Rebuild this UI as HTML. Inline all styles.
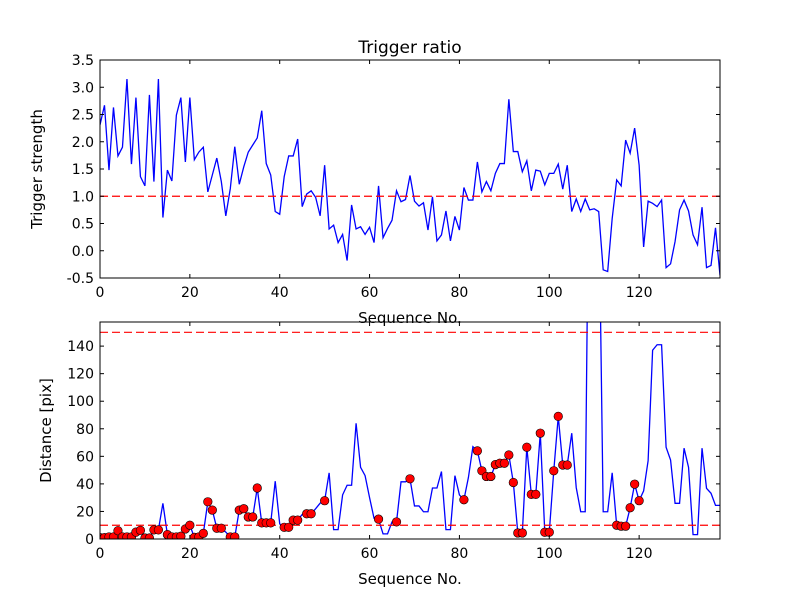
<!DOCTYPE html>
<html><head><meta charset="utf-8"><style>
body{margin:0;background:#fff;}
svg text{font-family:"DejaVu Sans","Liberation Sans",sans-serif;fill:#000;}
</style></head><body>
<svg id="chart" width="800" height="600" viewBox="0 0 800 600" xmlns="http://www.w3.org/2000/svg">
<rect width="800" height="600" fill="#fff"/>
<defs>
<clipPath id="clipTop"><rect x="100" y="60" width="620" height="218"/></clipPath>
<clipPath id="clipBot"><rect x="100" y="322" width="620" height="217"/></clipPath>
</defs>
<g id="top"></g>
<g id="bot"></g>
</svg>
<script>
const ratio = [2.31,2.67,1.48,2.63,1.74,1.9,3.15,1.59,2.81,1.36,1.19,2.86,1.27,3.15,0.61,1.48,1.28,2.49,2.81,1.63,
2.81,1.67,1.81,1.9,1.08,1.39,1.7,1.27,0.64,1.14,1.91,1.22,1.54,1.81,1.94,2.07,2.57,1.6,1.39,0.72,
0.67,1.36,1.74,1.74,2.05,0.81,1.04,1.1,0.98,0.64,1.57,0.4,0.47,0.15,0.3,-0.18,0.84,0.4,0.44,0.3,
0.43,0.15,1.19,0.24,0.41,0.56,1.1,0.9,0.94,1.38,0.91,0.82,0.88,0.38,0.99,0.18,0.29,0.73,0.18,0.63,
0.38,1.16,0.93,0.93,1.63,1.08,1.27,1.1,1.42,1.6,1.6,2.78,1.82,1.82,1.45,1.65,1.1,1.48,1.46,1.21,
1.42,1.42,1.59,1.13,1.57,0.72,0.95,0.72,0.95,0.75,0.77,0.72,-0.35,-0.38,0.59,1.3,1.19,2.03,1.79,2.25,
1.57,0.07,0.91,0.87,0.81,0.93,-0.31,-0.24,0.17,0.75,0.93,0.73,0.29,0.11,0.8,-0.31,-0.27,0.42,-0.45];
const distance = [1,1,1.5,1.5,6,1.5,1.5,1.5,5,6.3,0.7,0.7,6.6,6.6,25.9,3.2,1.5,1.5,2,7.3,
10,1.2,1.5,4.1,27,21,7.8,7.8,5,1.5,1.5,21,22,16,16,37,11.7,11.7,11.7,42,
11,8.5,8.5,13.7,13.7,17.8,18.3,18.3,22,26,27.8,48,6.8,6.8,32,39,39,84,52,46,
30,15,14.4,3.7,3.7,12.4,12.4,41.5,41.5,43.7,24,24,19.8,19.8,37,37,49,6.8,6.8,46,
32,28.5,44.6,67,64,49.5,45.4,45.4,54,55,55,61,41,4.4,4.4,66.6,32.4,32.4,76.8,4.9,
4.9,49.5,89,53.7,53.7,76.8,37.3,19.8,19.8,340,320,260,19.8,19.8,48,10,9.3,9.3,22.7,39.8,
27.8,34.9,56.8,137,141,141,66.6,57.3,25.9,25.9,65.9,52,3.2,3.2,65.9,36.8,33.2,24.4,24.4];
const xTicks = [0,20,40,60,80,100,120];
const topYTicks = [-0.5,0.0,0.5,1.0,1.5,2.0,2.5,3.0,3.5];
const botYTicks = [0,20,40,60,80,100,120,140];
const ratioThreshold = [1];
const distThresholds = [10,150];

const NS="http://www.w3.org/2000/svg";
function mk(parent,tag,attrs){const e=document.createElementNS(NS,tag);for(const k in attrs)e.setAttribute(k,attrs[k]);parent.appendChild(e);return e;}
const X0=100,X1=720,XMAX=138;
const sx=v=>X0+(X1-X0)*v/XMAX;
const T={y0:278,y1:60,min:-0.5,max:3.5};
const B={y0:539,y1:322,min:0,max:157.5};
const syT=v=>T.y0-(T.y0-T.y1)*(v-T.min)/(T.max-T.min);
const syB=v=>B.y0-(B.y0-B.y1)*(v-B.min)/(B.max-B.min);

function axes(g,y0,y1,sy,yt,fmt,ylabel,ylx,name){
  for(const t of xTicks){
    const x=sx(t);
    let a=mk(g,'line',{x1:x,x2:x,y1:y0,y2:y0-4,stroke:'#000'});
    
    mk(g,'line',{x1:x,x2:x,y1:y1,y2:y1+4,stroke:'#000'});
    const tx=mk(g,'text',{x:x,y:y0+19,'font-size':14,'text-anchor':'middle'});
    
    
    tx.textContent=t;
  }
  for(const t of yt){
    const y=sy(t);
    mk(g,'line',{x1:X0,x2:X0+4,y1:y,y2:y,stroke:'#000'});
    mk(g,'line',{x1:X1,x2:X1-4,y1:y,y2:y,stroke:'#000'});
    const tx=mk(g,'text',{x:X0-6,y:y+5,'font-size':14,'text-anchor':'end'});
    
    
    tx.textContent=fmt(t);
  }
  const fr=mk(g,'rect',{x:X0,y:y1,width:X1-X0,height:y0-y1,fill:'none',stroke:'#000','stroke-width':1});
  
  
  const xl=mk(g,'text',{x:(X0+X1)/2,y:y0+45,'font-size':15,'text-anchor':'middle'});
  
  
  xl.textContent='Sequence No.';
  const yl=mk(g,'text',{x:ylx,y:(y0+y1)/2,'font-size':15,'text-anchor':'middle',transform:`rotate(-90 ${ylx} ${(y0+y1)/2})`});
  
  
  yl.textContent=ylabel;
}

// top
const gT=document.getElementById('top');
const title=mk(gT,'text',{x:410,y:53,'font-size':17,'text-anchor':'middle'});


title.textContent='Trigger ratio';
const tl=mk(gT,'polyline',{points:ratio.map((v,i)=>sx(i)+','+syT(v)).join(' '),fill:'none',stroke:'#0000ff','stroke-width':1.3,'clip-path':'url(#clipTop)'});


for(const th of ratioThreshold){
  const l=mk(gT,'line',{x1:X0,x2:X1,y1:syT(th),y2:syT(th),stroke:'#ff0000','stroke-width':1.2,'stroke-dasharray':'8,4'});
  
  
}
axes(gT,T.y0,T.y1,syT,topYTicks,v=>v.toFixed(1),'Trigger strength',42,'top-plot');

// bottom
const gB=document.getElementById('bot');
const bl=mk(gB,'polyline',{points:distance.map((v,i)=>sx(i)+','+syB(v)).join(' '),fill:'none',stroke:'#0000ff','stroke-width':1.3,'clip-path':'url(#clipBot)'});


for(const th of distThresholds){
  const l=mk(gB,'line',{x1:X0,x2:X1,y1:syB(th),y2:syB(th),stroke:'#ff0000','stroke-width':1.2,'stroke-dasharray':'8,4'});
  
  
}
const mg=mk(gB,'g',{'clip-path':'url(#clipBot)'});
distance.forEach((v,i)=>{
  if(ratio[i]>ratioThreshold[0]){
    const c=mk(mg,'circle',{cx:sx(i),cy:syB(v),r:4.3,fill:'#ff0000',stroke:'#000','stroke-width':0.6});
    
    
  }
});
axes(gB,B.y0,B.y1,syB,botYTicks,v=>String(v),'Distance [pix]',51,'bottom-plot');
</script>
</body></html>
